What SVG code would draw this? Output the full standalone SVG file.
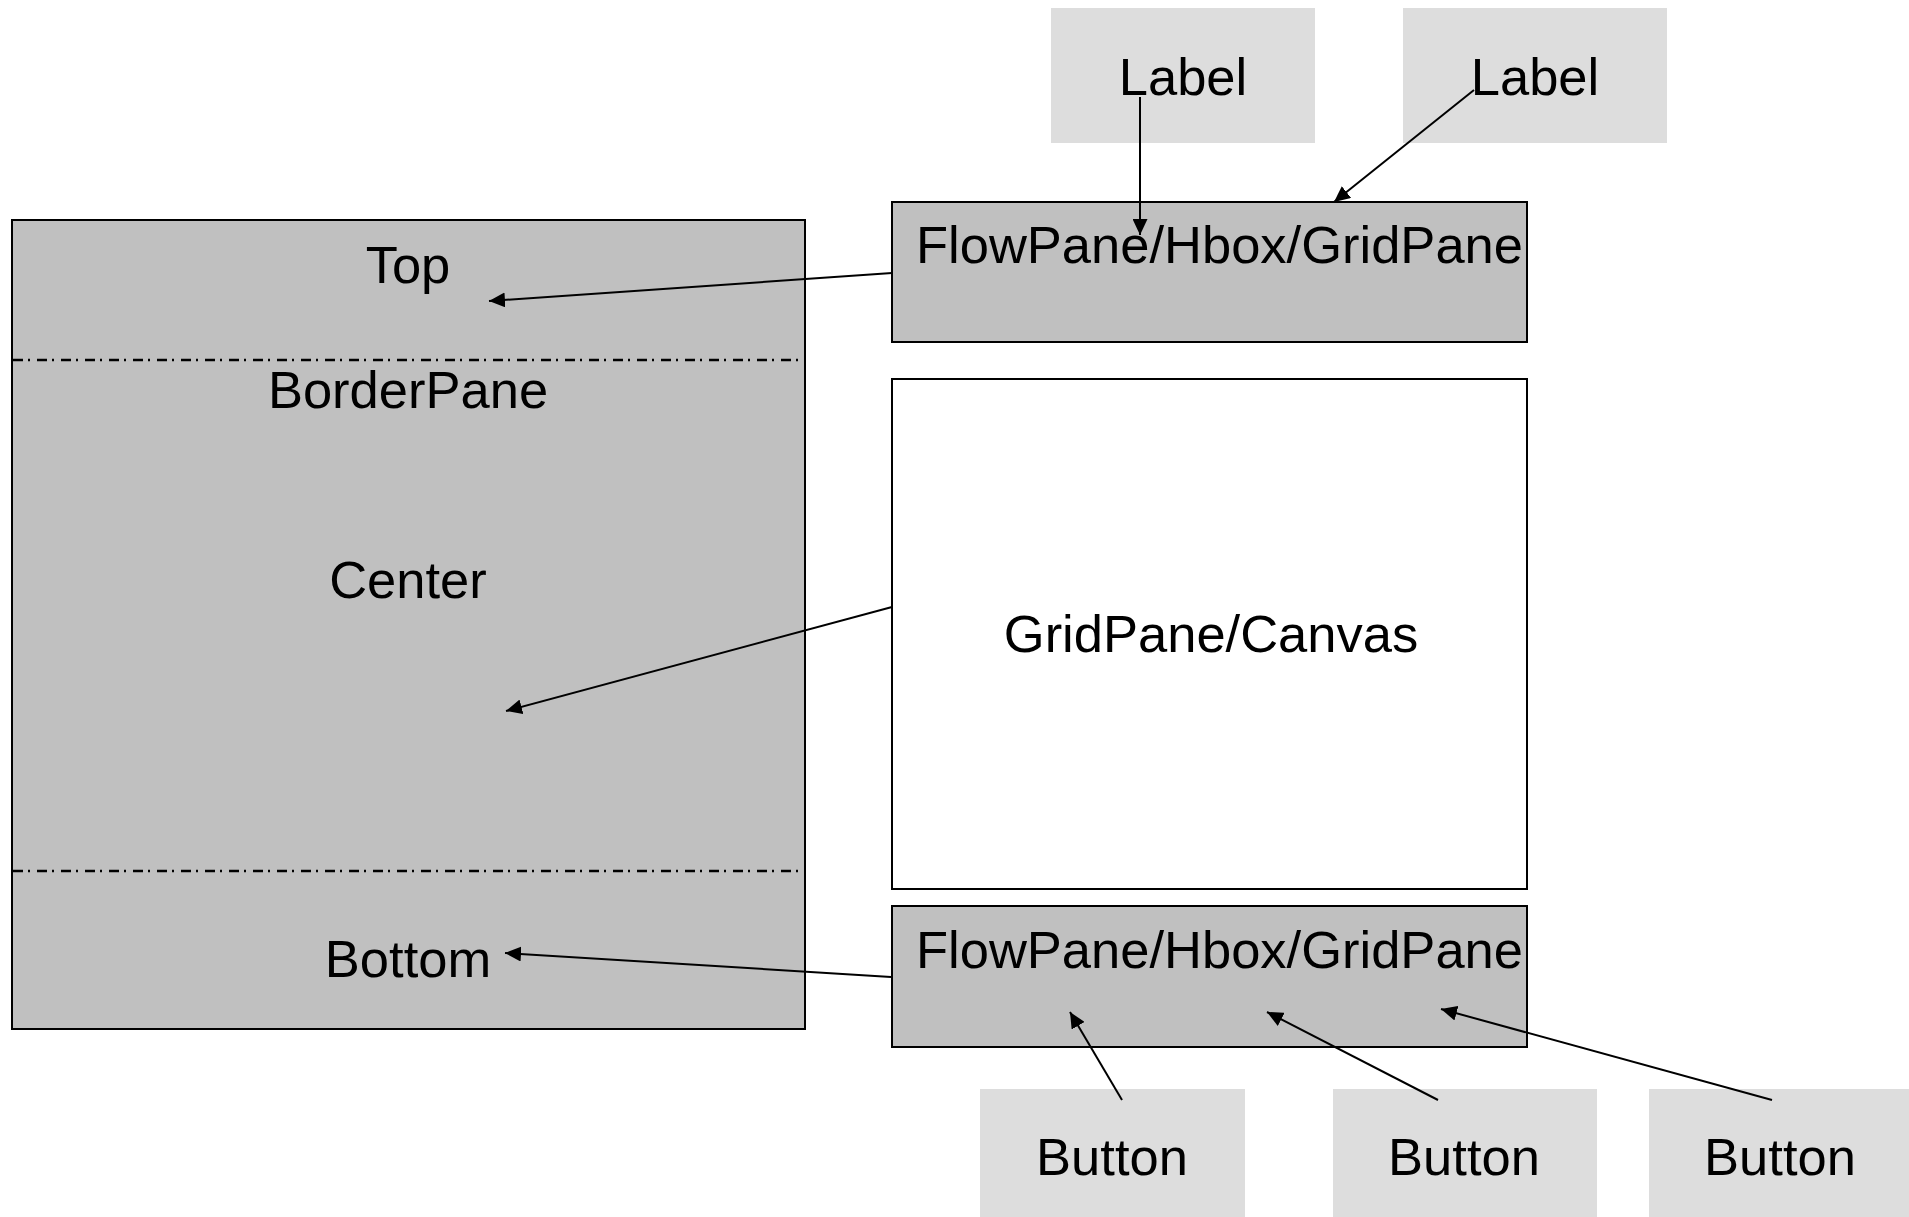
<svg xmlns="http://www.w3.org/2000/svg" width="1909" height="1217" viewBox="0 0 1909 1217">
  <defs>
    <marker id="arrow" markerUnits="userSpaceOnUse" markerWidth="17" markerHeight="15" refX="16" refY="7.5" orient="auto">
      <path d="M0,0 L16,7.5 L0,15 z" fill="#000"/>
    </marker>
    <style>
      .pane { fill: #c0c0c0; stroke: #000; stroke-width: 2; }
      .plain { fill: #ffffff; stroke: #000; stroke-width: 2; }
      .leaf { fill: #dddddd; stroke: none; }
      .divider { stroke: #000; stroke-width: 2.4; stroke-dasharray: 10 5 2 7; fill: none; }
      .t { font-family: "Liberation Sans", Arial, sans-serif; font-size: 52.5px; fill: #000; }
      .mid { text-anchor: middle; }
      .edge { stroke: #000; stroke-width: 2; fill: none; marker-end: url(#arrow); }
    </style>
  </defs>
  <rect width="1909" height="1217" fill="#ffffff"/>

  <!-- BorderPane with its regions -->
  <g id="borderpane">
    <rect class="pane" x="12" y="220" width="793" height="809"/>
    <line class="divider" x1="13" y1="360" x2="804" y2="360"/>
    <line class="divider" x1="13" y1="871" x2="804" y2="871"/>
    <text class="t mid" x="408" y="283">Top</text>
    <text class="t mid" x="408" y="408">BorderPane</text>
    <text class="t mid" x="408" y="598">Center</text>
    <text class="t mid" x="408" y="977">Bottom</text>
  </g>

  <g id="top-flowpane">
    <rect class="pane" x="892" y="202" width="635" height="140"/>
    <text class="t" x="916" y="263">FlowPane/Hbox/GridPane</text>
  </g>

  <g id="center-canvas">
    <rect class="plain" x="892" y="379" width="635" height="510"/>
    <text class="t mid" x="1211" y="652">GridPane/Canvas</text>
  </g>

  <g id="bottom-flowpane">
    <rect class="pane" x="892" y="906" width="635" height="141"/>
    <text class="t" x="916" y="968">FlowPane/Hbox/GridPane</text>
  </g>

  <g id="label-1">
    <rect class="leaf" x="1051" y="8" width="264" height="135"/>
    <text class="t mid" x="1183" y="95">Label</text>
  </g>
  <g id="label-2">
    <rect class="leaf" x="1403" y="8" width="264" height="135"/>
    <text class="t mid" x="1535" y="95">Label</text>
  </g>

  <g id="button-1">
    <rect class="leaf" x="980" y="1089" width="265" height="128"/>
    <text class="t mid" x="1112" y="1175">Button</text>
  </g>
  <g id="button-2">
    <rect class="leaf" x="1333" y="1089" width="264" height="128"/>
    <text class="t mid" x="1464" y="1175">Button</text>
  </g>
  <g id="button-3">
    <rect class="leaf" x="1649" y="1089" width="260" height="128"/>
    <text class="t mid" x="1780" y="1175">Button</text>
  </g>

  <!-- containment arrows -->
  <g id="connectors">
    <line class="edge" x1="1140" y1="97" x2="1140" y2="235"/>
    <line class="edge" x1="1474" y1="90" x2="1334" y2="202"/>
    <line class="edge" x1="892" y1="273" x2="489" y2="301"/>
    <line class="edge" x1="892" y1="607" x2="506" y2="711"/>
    <line class="edge" x1="891" y1="977" x2="505" y2="953"/>
    <line class="edge" x1="1122" y1="1100" x2="1070" y2="1012"/>
    <line class="edge" x1="1438" y1="1100" x2="1267" y2="1012"/>
    <line class="edge" x1="1772" y1="1100" x2="1441" y2="1009"/>
  </g>
</svg>
